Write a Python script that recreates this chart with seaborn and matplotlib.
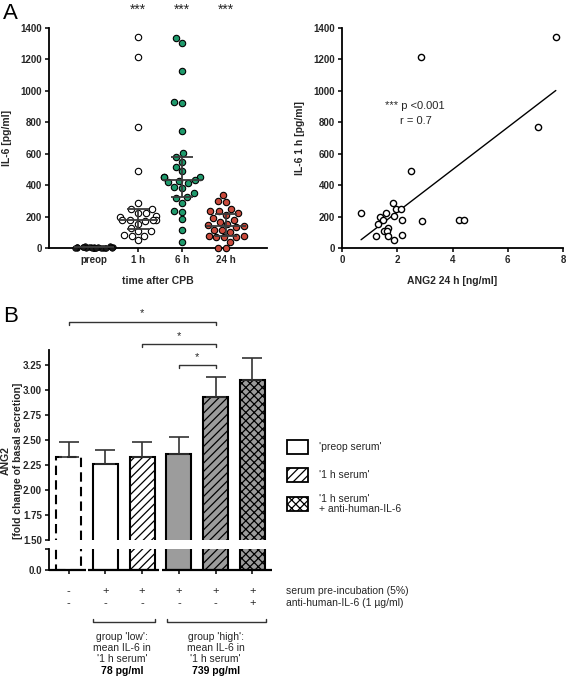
import numpy as np
import pandas as pd
import matplotlib
matplotlib.use('Agg')
import matplotlib.pyplot as plt
import seaborn as sns
from matplotlib.patches import Rectangle
from matplotlib.lines import Line2D
from matplotlib.transforms import blended_transform_factory

sns.set_style('ticks')
plt.rcParams['font.family'] = ['Liberation Sans', 'DejaVu Sans']
plt.rcParams['hatch.linewidth'] = 0.9
plt.rcParams['lines.dashed_pattern'] = [4.5, 2.5]
np.random.seed(7)

# ---------------- data ----------------
groups = ['preop', '1 h', '6 h', '24 h']
il6_preop = [0, 2, 5, 3, 8, 1, 4, 6, 10, 2, 0, 3, 7, 5, 1, 12, 4, 2, 6, 3, 9, 0, 5, 2]
il6_1h = [1340, 1215, 770, 488, 221, 286, 248, 248, 197, 221, 176, 201, 155, 180,
          170, 180, 180, 129, 106, 106, 78, 78, 85, 49]
ang2_24h = [7.74, 2.86, 7.11, 2.50, 0.69, 1.84, 1.94, 2.13, 1.36, 1.59, 1.48, 1.87,
            1.32, 2.19, 2.90, 4.24, 4.40, 1.66, 1.53, 1.64, 1.24, 1.67, 2.18, 1.88]
il6_6h = [1334, 1307, 1128, 931, 925, 745, 602, 581, 549, 517, 490, 452, 452, 454,
          432, 425, 418, 411, 386, 380, 348, 327, 316, 288, 237, 231, 183, 115, 36]
il6_24h = [339, 301, 295, 248, 235, 233, 221, 212, 191, 180, 163, 153, 148, 138,
           131, 117, 117, 104, 78, 78, 72, 70, 70, 40, 2, 0]
group_colors = {'preop': '#1a1a1a', '1 h': '#ffffff', '6 h': '#1f9a6c', '24 h': '#c94a3c'}

bar_names = ['control', "low: 'preop serum'", "low: '1 h serum'",
             "high: 'preop serum'", "high: '1 h serum'", "high: '1 h serum' + anti-IL-6"]
ang2_mean = [2.33, 2.26, 2.33, 2.36, 2.93, 3.10]
ang2_sem = [0.15, 0.14, 0.15, 0.17, 0.20, 0.22]
serum_row = ['-', '+', '+', '+', '+', '+']
anti_row = ['-', '-', '-', '-', '-', '+']
bar_faces = ['white', 'white', 'white', '#9c9c9c', '#9c9c9c', '#9c9c9c']
bar_hatches = ['', '', '////', '', '////', 'xxxx']
bar_styles = ['--', '-', '-', '-', '-', '-']

W, H = 567, 678
fig = plt.figure(figsize=(W / 100, H / 100), dpi=100)


def rect(l, t, w, h):
    return [l / W, 1 - (t + h) / H, w / W, h / H]


def fy(py):
    return 1 - py / H


TXT = '#262626'

# ---------------- Panel A left ----------------
axA = fig.add_axes(rect(49, 28, 218, 220))
df = pd.DataFrame({
    'group': ['preop'] * len(il6_preop) + ['1 h'] * len(il6_1h) + ['6 h'] * len(il6_6h) + ['24 h'] * len(il6_24h),
    'IL6': il6_preop + il6_1h + il6_6h + il6_24h,
})
sns.stripplot(data=df[df.group == 'preop'], x='group', y='IL6', order=groups, ax=axA,
              color=group_colors['preop'], edgecolor='black', linewidth=0.5, size=4.0, jitter=0.45)
for g in groups[1:]:
    sns.swarmplot(data=df[df.group == g], x='group', y='IL6', order=groups, ax=axA,
                  color=group_colors[g], edgecolor='black', linewidth=0.8, size=4.6)
for c in axA.collections:
    c.set_clip_on(False)
    c.set_zorder(3)

for i, g in enumerate(groups):
    v = df.loc[df.group == g, 'IL6'].to_numpy()
    med = np.median(v)
    q1, q3 = np.percentile(v, [25, 75])
    axA.hlines(med, i - 0.45, i + 0.45, color='#3a3a3a', lw=1.3, zorder=4)
    axA.vlines(i, q1, q3, color='#3a3a3a', lw=1.3, zorder=4)
    axA.hlines([q1, q3], i - 0.25, i + 0.25, color='#3a3a3a', lw=1.3, zorder=4)
    if i > 0:
        axA.text(i, 1515, '***', ha='center', va='center', fontsize=10, color=TXT, clip_on=False)

axA.set_xlim(-1.02, 3.93)
axA.set_ylim(0, 1400)
axA.set_yticks(range(0, 1401, 200))
axA.set_xlabel('time after CPB', fontsize=7.5, fontweight='bold', labelpad=8, color=TXT)
axA.set_ylabel('IL-6 [pg/ml]', fontsize=7.5, fontweight='bold', labelpad=6, color=TXT)

# ---------------- Panel A right ----------------
axR = fig.add_axes(rect(342, 28, 221, 220))
dfr = pd.DataFrame({'ANG2': ang2_24h, 'IL6': il6_1h})
sns.regplot(data=dfr, x='ANG2', y='IL6', ax=axR, scatter=False, ci=None, truncate=True,
            line_kws=dict(color='black', lw=1.0))
sns.scatterplot(data=dfr, x='ANG2', y='IL6', ax=axR, color='white', edgecolor='black',
                linewidth=1.0, s=20, zorder=3)
for c in axR.collections:
    c.set_clip_on(False)
axR.set_xlim(0, 8)
axR.set_ylim(0, 1400)
axR.set_xticks(range(0, 9, 2))
axR.set_yticks(range(0, 1401, 200))
axR.set_xlabel('ANG2 24 h [ng/ml]', fontsize=7.5, fontweight='bold', labelpad=8, color=TXT)
axR.set_ylabel('IL-6 1 h [pg/ml]', fontsize=7.5, fontweight='bold', labelpad=6, color=TXT)
axR.text(1.56, 904, '*** p <0.001', fontsize=8, color=TXT, va='center')
axR.text(2.10, 808, 'r = 0.7', fontsize=8, color=TXT, va='center')

for ax in (axA, axR):
    sns.despine(ax=ax)
    for s in ('left', 'bottom'):
        ax.spines[s].set_linewidth(1.3)
        ax.spines[s].set_color('black')
    ax.tick_params(length=3, width=1.1, pad=2, labelsize=7, colors='black')
    for lab in ax.get_xticklabels() + ax.get_yticklabels():
        lab.set_fontweight('bold')
        lab.set_color(TXT)

# ---------------- Panel B ----------------
axBt = fig.add_axes(rect(49, 350, 223, 190))
axBb = fig.add_axes(rect(49, 549, 223, 21))
for ax in (axBt, axBb):
    sns.barplot(x=bar_names, y=ang2_mean, order=bar_names, ax=ax, width=0.68,
                color='white', saturation=1, errorbar=None)
    for p, fc, h, ls in zip(ax.patches, bar_faces, bar_hatches, bar_styles):
        p.set_facecolor(fc)
        p.set_edgecolor('black')
        p.set_linewidth(1.5)
        p.set_hatch(h)
        p.set_linestyle(ls)
    ax.set_xlim(-0.53, 5.53)
    ax.set_xlabel('')
    ax.set_ylabel('')
    for s in ('top', 'right', 'bottom'):
        ax.spines[s].set_visible(False)
    ax.spines['left'].set_linewidth(1.3)
    ax.spines['left'].set_color('black')
    ax.tick_params(axis='y', length=3, width=1.1, pad=2, labelsize=7, colors='black')
    ax.set_facecolor('none')

axBt.errorbar(range(len(ang2_mean)), ang2_mean, yerr=[np.zeros(len(ang2_sem)), ang2_sem],
              fmt='none', ecolor='#333333', elinewidth=1.2, capsize=7, capthick=1.2)
axBt.set_ylim(1.5, 3.4)
yt = np.arange(1.5, 3.26, 0.25)
axBt.set_yticks(yt)
axBt.set_yticklabels([f'{v:.2f}' for v in yt])
axBt.set_xticks([])
axBb.set_ylim(0, 0.21)
axBb.set_yticks([0, 0.21])
axBb.set_yticklabels(['0.0', ''])
axBb.set_xticks(range(6))
axBb.set_xticklabels([''] * 6)
axBb.tick_params(axis='x', length=3, width=1.1, colors='black')
for ax in (axBt, axBb):
    for lab in ax.get_yticklabels():
        lab.set_fontweight('bold')
        lab.set_color(TXT)

# broken x axis
for x0, x1 in [(-0.53, 0.47), (0.53, 2.47), (2.53, 5.53)]:
    axBb.plot([x0, x1], [0, 0], color='black', lw=1.6, clip_on=False, solid_capstyle='butt')

# significance brackets
for x0, x1, yb, ys in [(0, 4, 3.68, 3.77), (2, 4, 3.46, 3.54), (3, 4, 3.25, 3.33)]:
    axBt.plot([x0, x0, x1, x1], [yb - 0.03, yb, yb, yb - 0.03], color='#333333', lw=1.0,
              clip_on=False)
    axBt.text((x0 + x1) / 2, ys, '*', ha='center', va='center', fontsize=8, color=TXT,
              clip_on=False)

# +/- rows
tr = blended_transform_factory(axBb.transData, fig.transFigure)
for i, (s1, s2) in enumerate(zip(serum_row, anti_row)):
    axBb.text(i, fy(591), s1, transform=tr, ha='center', va='center', fontsize=8, color=TXT)
    axBb.text(i, fy(603), s2, transform=tr, ha='center', va='center', fontsize=8, color=TXT)
fig.text(286 / W, fy(591), 'serum pre-incubation (5%)', ha='left', va='center', fontsize=7.5, color=TXT)
fig.text(286 / W, fy(603), 'anti-human-IL-6 (1 µg/ml)', ha='left', va='center', fontsize=7.5, color=TXT)

# group brackets
for x0, x1 in [(0.67, 2.35), (2.68, 5.37)]:
    axBb.add_line(Line2D([x0, x0, x1, x1], [fy(619), fy(622), fy(622), fy(619)], transform=tr,
                         color='#333333', lw=1.0, clip_on=False))
for xc, lines in [(1.45, ["group 'low':", "mean IL-6 in", "'1 h serum'", "78 pg/ml"]),
                  (4.0, ["group 'high':", "mean IL-6 in", "'1 h serum'", "739 pg/ml"])]:
    for k, (t, yy) in enumerate(zip(lines, [637, 648, 659, 671])):
        axBb.text(xc, fy(yy), t, transform=tr, ha='center', va='center', fontsize=7.5,
                  color='black' if k == 3 else TXT, fontweight='bold' if k == 3 else 'normal')

# B ylabel
fig.text(12 / W, fy(461), 'ANG2\n[fold change of basal secretion]', rotation=90, ha='center',
         va='center', fontsize=7.5, fontweight='bold', multialignment='center', color=TXT)

# legend
leg_items = [("'preop serum'", '', 440), ("'1 h serum'", '////', 468),
             ("'1 h serum'\n+ anti-human-IL-6", 'xxxx', 497)]
for lab, h, top in leg_items:
    fig.add_artist(Rectangle((287 / W, fy(top + 14)), 21 / W, 14 / H, transform=fig.transFigure,
                             facecolor='white', edgecolor='black', lw=1.3, hatch=h))
    fig.text(319 / W, fy(top + 7), lab, ha='left', va='center', fontsize=7.5, color=TXT,
             linespacing=1.1)

# panel letters
fig.text(3 / W, fy(3), 'A', ha='left', va='top', fontsize=16, color='black')
fig.text(3 / W, fy(306), 'B', ha='left', va='top', fontsize=16, color='black')

fig.savefig('out.png', dpi=100)
